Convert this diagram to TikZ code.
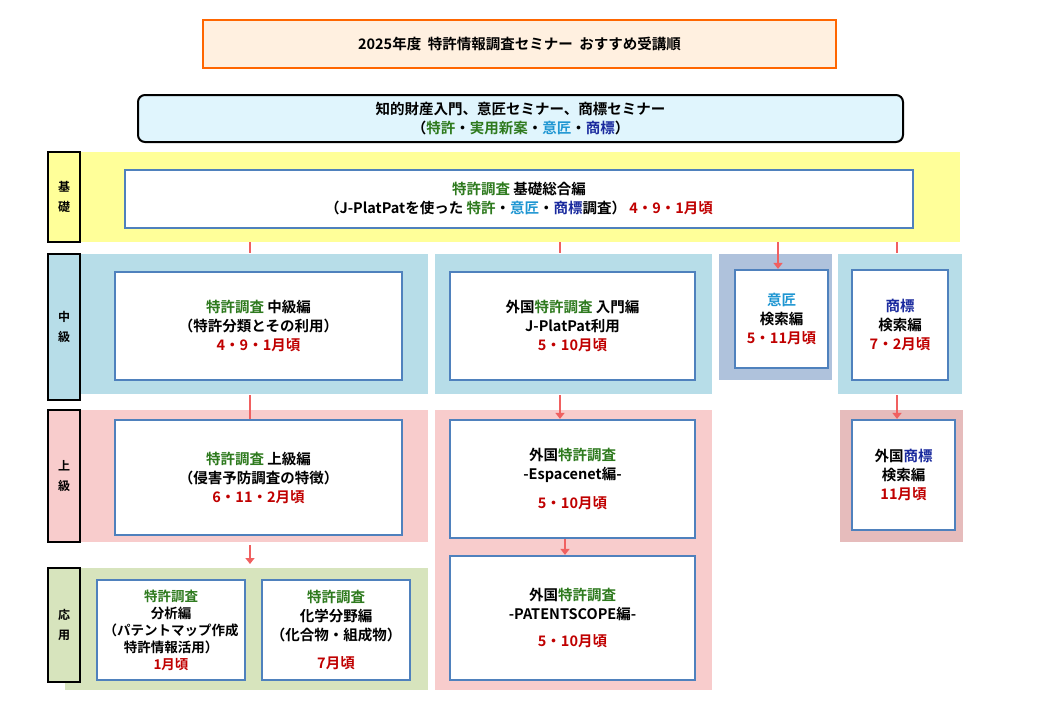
\documentclass[tikz,border=0pt]{standalone}
\usepackage{fontspec}
\usetikzlibrary{arrows.meta}
\setmainfont{Noto Sans CJK JP}[BoldFont={Noto Sans CJK JP Bold}]
\definecolor{gr}{HTML}{2E7A1E}
\definecolor{ib}{HTML}{1E96D2}
\definecolor{sb}{HTML}{1A2A9E}
\definecolor{rd}{HTML}{C00000}
\definecolor{bb}{HTML}{4F81BD}
\definecolor{yel}{HTML}{FFFF99}
\definecolor{lblue}{HTML}{B7DDE8}
\definecolor{iband}{HTML}{AFC2DC}
\definecolor{pink}{HTML}{F8CCCC}
\definecolor{gband}{HTML}{E6BCBC}
\definecolor{lgreen}{HTML}{D7E4BD}
\definecolor{arr}{HTML}{F06060}
\begin{document}
\begin{tikzpicture}[x=1pt,y=-1pt,font=\bfseries\fontsize{14.5}{19}\selectfont,
  band/.style={fill=#1,draw=none,inner sep=0},
  lab/.style={fill=#1,draw=black,line width=2.5pt,inner sep=0,align=center,font=\bfseries\fontsize{12}{20}\selectfont},
  wbox/.style={fill=white,draw=bb,line width=2.2pt,inner sep=0,align=center},
  con/.style={arr,line width=2.5pt},
  arw/.style={con,-{Triangle[length=6pt,width=9pt]}}]
\useasboundingbox (0,0) rectangle (1040,720);
\node[fill=orange!12,draw=orange!80!red,line width=2pt,minimum width=633pt,minimum height=48pt] (title) at (519.5,44) {2025年度\ \ 特許情報調査セミナー\ \ おすすめ受講順};
\node[fill=cyan!12,draw=black,line width=2pt,rounded corners=7pt,minimum width=765pt,minimum height=47pt,align=center] (top) at (520.5,118.5) {知的財産入門、意匠セミナー、商標セミナー\\（\textcolor{gr}{特許}・\textcolor{gr}{実用新案}・\textcolor{ib}{意匠}・\textcolor{sb}{商標}）};
% bands
\path[band=yel] (80,152) rectangle (960,242);
\path[band=lblue] (80,254) rectangle (428,394);
\path[band=lblue] (435,254) rectangle (712,394);
\path[band=iband] (719,254) rectangle (832,380);
\path[band=lblue] (838,254) rectangle (962,394);
\path[band=pink] (80,410) rectangle (428,542);
\path[band=pink] (435,410) rectangle (712,690);
\path[band=gband] (840,410) rectangle (963,542);
\path[band=lgreen] (65,568) rectangle (428,690);
% level labels
\node[lab=yel,minimum width=32pt,minimum height=90pt] (l1) at (64,197) {基\\礎};
\node[lab=lblue,minimum width=32pt,minimum height=146pt] (l2) at (64,327) {中\\級};
\node[lab=pink,minimum width=32pt,minimum height=132pt] (l3) at (64,476) {上\\級};
\node[lab=lgreen,minimum width=32pt,minimum height=114pt] (l4) at (64,625) {応\\用};
% boxes
\node[wbox,minimum width=788pt,minimum height=58pt] (kiso) at (519,199) {\textcolor{gr}{特許調査} 基礎総合編\\（J-PlatPatを使った \textcolor{gr}{特許}・\textcolor{ib}{意匠}・\textcolor{sb}{商標}調査）\ \textcolor{rd}{4・9・1月頃}};
\node[wbox,minimum width=287pt,minimum height=108pt] (chu) at (258.5,326) {\textcolor{gr}{特許調査} 中級編\\（特許分類とその利用）\\\textcolor{rd}{4・9・1月頃}};
\node[wbox,minimum width=245pt,minimum height=108pt] (gai) at (572.5,326) {外国\textcolor{gr}{特許調査} 入門編\\J-PlatPat利用\\\textcolor{rd}{5・10月頃}};
\node[wbox,minimum width=93pt,minimum height=98pt] (ish) at (781.5,319) {\textcolor{ib}{意匠}\\検索編\\\textcolor{rd}{5・11月頃}};
\node[wbox,minimum width=96pt,minimum height=110pt] (sho) at (900,325) {\textcolor{sb}{商標}\\検索編\\\textcolor{rd}{7・2月頃}};
\node[wbox,minimum width=287pt,minimum height=115pt] (jo) at (258.5,477.5) {\textcolor{gr}{特許調査} 上級編\\（侵害予防調査の特徴）\\\textcolor{rd}{6・11・2月頃}};
\node[wbox,minimum width=245pt,minimum height=118pt,align=center] (esp) at (572.5,479) {外国\textcolor{gr}{特許調査}\\-Espacenet編-\\\rule{0pt}{25pt}\textcolor{rd}{5・10月頃}};
\node[wbox,minimum width=245pt,minimum height=124pt] (pat) at (572.5,618) {外国\textcolor{gr}{特許調査}\\-PATENTSCOPE編-\\\rule{0pt}{25pt}\textcolor{rd}{5・10月頃}};
\node[wbox,minimum width=103pt,minimum height=110pt] (gsho) at (903.5,475) {外国\textcolor{sb}{商標}\\検索編\\\textcolor{rd}{11月頃}};
\node[wbox,minimum width=148pt,minimum height=100pt,font=\bfseries\fontsize{13.5}{17}\selectfont] (bun) at (171,630) {\textcolor{gr}{特許調査}\\分析編\\（パテントマップ作成\\特許情報活用）\\\textcolor{rd}{1月頃}};
\node[wbox,minimum width=148pt,minimum height=100pt] (kag) at (336,630) {\textcolor{gr}{特許調査}\\化学分野編\\（化合物・組成物）\\\rule{0pt}{25pt}\textcolor{rd}{7月頃}};
% connectors
\coordinate (k1) at (250,242); \coordinate (k2) at (560,242);
\coordinate (k3) at (778,242); \coordinate (k4) at (897,242);
\coordinate (j1) at (250,545); \coordinate (j2) at (250,564);
\draw[con] (k1) -- ++(0,11);
\draw[con] (k2) -- ++(0,11);
\draw[arw] (k3) -- (ish.north -| k3);
\draw[con] (k4) -- ++(0,11);
\draw[con] (chu.south -| k1) ++(0,14) -- (jo.north -| k1);
\draw[arw] (gai.south -| k2) ++(0,14) -- (esp.north -| k2);
\draw[arw] (sho.south -| k4) ++(0,14) -- (gsho.north -| k4);
\draw[arw] (j1) -- (j2);
\draw[arw] (esp.south -| 565,0) -- (pat.north -| 565,0);
\end{tikzpicture}
\end{document}
